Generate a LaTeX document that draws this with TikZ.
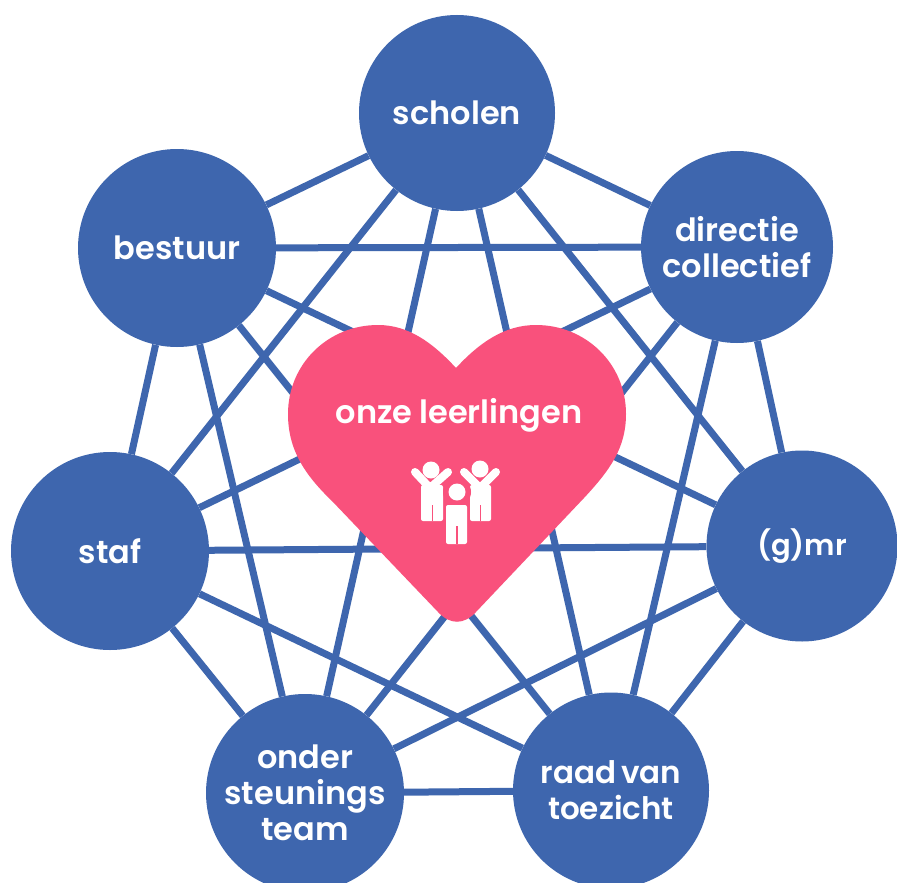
\documentclass[tikz,border=0pt]{standalone}
\usepackage{fontspec}
\usetikzlibrary{backgrounds}
\setmainfont{Poppins}[BoldFont=* SemiBold]
\definecolor{netblue}{HTML}{3E66AE}
\definecolor{heartpink}{HTML}{F9517C}
\tikzset{
  member/.style={circle,fill=netblue,text=white,minimum size=#1,inner sep=0pt,align=center,font=\fontsize{32}{36}\selectfont\bfseries},
  link/.style={draw=netblue,line width=7pt},
  limb/.style={draw=white,line width=8pt,line cap=round,line join=round},
}
\begin{document}
\begin{tikzpicture}[x=1pt,y=-1pt]
\clip (0,0) rectangle (897,883);
\node[member=196pt] (sch) at (457,113) {scholen};
\node[member=192pt] (dir) at (737,247) {directie\\collectief};
\node[member=191pt,font=\fontsize{29}{36}\selectfont\bfseries] (gmr) at (802,546) {(g)mr};
\node[member=196pt,font=\fontsize{31}{36}\selectfont\bfseries] (raad) at (611,790.5) {raad\hspace{5pt}van\\toezicht};
\node[member=198pt] (ond) at (305,793) {onder\\steunings\\team};
\node[member=198pt] (staf) at (110,551) {staf};
\node[member=198pt] (bes) at (177,248) {bestuur};
\begin{scope}[on background layer]
\fill[white] (0,0) rectangle (897,883);
\foreach \a/\b in {sch/dir,sch/gmr,sch/raad,sch/ond,sch/staf,sch/bes,
  dir/gmr,dir/raad,dir/ond,dir/staf,dir/bes,
  gmr/raad,gmr/ond,gmr/staf,gmr/bes,
  raad/ond,raad/staf,raad/bes,
  ond/staf,ond/bes,staf/bes}
  \draw[link] (\a) -- (\b);
\end{scope}
% heart
\fill[heartpink] (456,368)
  .. controls (432,342) and (408,325) .. (378,325)
  .. controls (328,325) and (288,364) .. (288,414)
  .. controls (288,450) and (305,475) .. (332,501)
  -- (438,612)
  .. controls (450,625) and (464,625) .. (476,612)
  -- (584,498)
  .. controls (610,470) and (626,448) .. (626,414)
  .. controls (626,364) and (586,325) .. (536,325)
  .. controls (505,325) and (480,342) .. (456,368) -- cycle;
\node[text=white,inner sep=0pt,font=\fontsize{32}{36}\selectfont\bfseries] (lbl) at (459,415) {onze\hspace{7pt}leerlingen};
% icon
\fill[white] (431,470) circle (8.5);
\fill[white] (480,469) circle (8.5);
\draw[limb] (415,472) -- (430,488) -- (448,472);
\draw[limb] (464,472) -- (480,488) -- (496,472);
\fill[white,rounded corners=2pt] (421,485) rectangle (443,521);
\fill[white,rounded corners=2pt] (470,485) rectangle (491,521);
\fill[heartpink] (431.5,505) rectangle (433,521);
\fill[heartpink] (479.5,505) rectangle (481,521);
\fill[heartpink] (457,492) circle (14);
\fill[heartpink] (444,508) rectangle (470,546);
\fill[white] (457,492) circle (8.5);
\fill[white,rounded corners=2pt] (446,505) rectangle (467,544);
\fill[heartpink] (456,526) rectangle (457.5,544);
\end{tikzpicture}
\end{document}
